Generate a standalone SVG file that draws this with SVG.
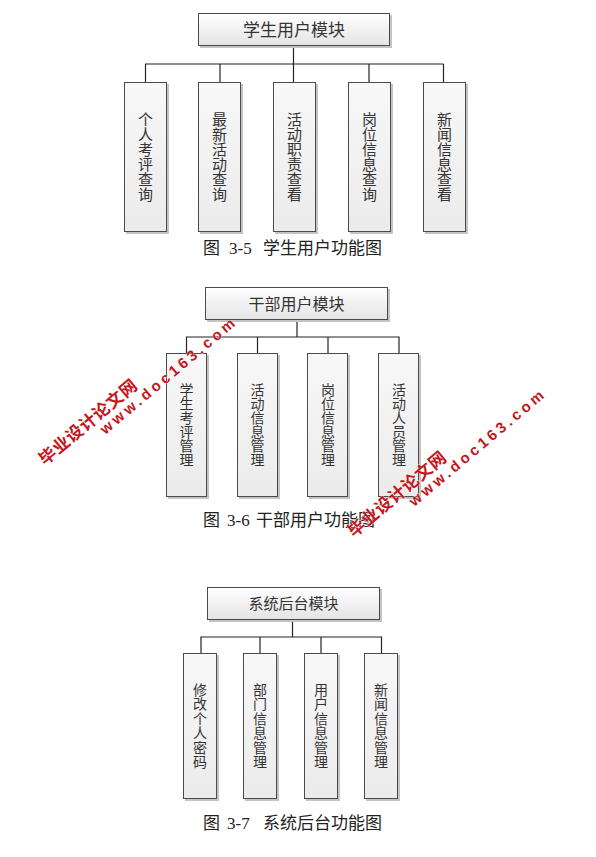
<svg xmlns="http://www.w3.org/2000/svg" width="596" height="857" viewBox="0 0 596 857">
<defs>
<linearGradient id="gTop" x1="0" y1="0" x2="0" y2="1">
<stop offset="0" stop-color="#ffffff"/>
<stop offset="1" stop-color="#e4e4e4"/>
</linearGradient>
<linearGradient id="gChild" x1="0" y1="0" x2="0" y2="1">
<stop offset="0" stop-color="#f8f8f8"/>
<stop offset="1" stop-color="#ebebeb"/>
</linearGradient>
<style>
.box{fill:url(#gTop);stroke:#4a4a4a;stroke-width:1}
.cbox{fill:url(#gChild);stroke:#4a4a4a;stroke-width:1}
.sh{fill:#c4c4c4}
.conn line{stroke:#222;stroke-width:1.2}
.t{font-family:"Noto Sans CJK SC","Noto Sans CJK JP",sans-serif;fill:#333;text-anchor:middle}
.v{writing-mode:vertical-rl;text-orientation:upright}
.cap{font-family:"Noto Sans CJK SC",sans-serif;fill:#222;font-size:17px}
.num{font-family:"Liberation Serif",serif;font-size:17px}
.wm{font-family:"Liberation Sans","Noto Sans CJK SC",sans-serif;font-weight:bold;fill:#c4161c;stroke:#ffffff;stroke-width:0.6;paint-order:stroke}
</style>
</defs>

<!-- Diagram 1 -->
<g id="conn1" class="conn">
<line x1="293.5" y1="46" x2="293.5" y2="64"/>
<line x1="145" y1="64" x2="443.5" y2="64"/>
<line x1="145.5" y1="64" x2="145.5" y2="82"/>
<line x1="220" y1="64" x2="220" y2="82"/>
<line x1="293.5" y1="64" x2="293.5" y2="82"/>
<line x1="369" y1="64" x2="369" y2="82"/>
<line x1="443.5" y1="64" x2="443.5" y2="82"/>
</g>
<g id="n1_root">
<rect class="sh" x="200" y="15" width="192" height="33"/>
<rect class="box" x="198.5" y="13.5" width="191" height="32"/>
<text class="t" x="294" y="36" font-size="17">学生用户模块</text>
</g>
<g id="n1_a">
<rect class="sh" x="126" y="84" width="43" height="150"/>
<rect class="cbox" x="124.5" y="82.5" width="42" height="149"/>
<text class="t v" x="145.5" y="157" font-size="15">个人考评查询</text>
</g>
<g id="n1_b">
<rect class="sh" x="200" y="84" width="43" height="150"/>
<rect class="cbox" x="198.5" y="82.5" width="42" height="149"/>
<text class="t v" x="219.5" y="157" font-size="15">最新活动查询</text>
</g>
<g id="n1_c">
<rect class="sh" x="275" y="84" width="43" height="150"/>
<rect class="cbox" x="273.5" y="82.5" width="42" height="149"/>
<text class="t v" x="294.5" y="157" font-size="15">活动职责查看</text>
</g>
<g id="n1_d">
<rect class="sh" x="350" y="84" width="43" height="150"/>
<rect class="cbox" x="348.5" y="82.5" width="42" height="149"/>
<text class="t v" x="369.5" y="157" font-size="15">岗位信息查询</text>
</g>
<g id="n1_e">
<rect class="sh" x="425" y="84" width="43" height="150"/>
<rect class="cbox" x="423.5" y="82.5" width="42" height="149"/>
<text class="t v" x="444.5" y="157" font-size="15">新闻信息查看</text>
</g>
<text class="cap" y="254"><tspan x="203">图</tspan><tspan class="num" x="229">3-5</tspan><tspan x="263">学生用户功能图</tspan></text>

<!-- Diagram 2 -->
<g id="conn2" class="conn">
<line x1="297" y1="320" x2="297" y2="337"/>
<line x1="186" y1="337" x2="399.5" y2="337"/>
<line x1="186.5" y1="337" x2="186.5" y2="353"/>
<line x1="257.5" y1="337" x2="257.5" y2="353"/>
<line x1="328" y1="337" x2="328" y2="353"/>
<line x1="399" y1="337" x2="399" y2="353"/>
</g>
<g id="n2_root">
<rect class="sh" x="207" y="289" width="183" height="33"/>
<rect class="box" x="205.5" y="287.5" width="182" height="32"/>
<text class="t" x="296.5" y="309.5" font-size="16">干部用户模块</text>
</g>
<g id="n2_a">
<rect class="sh" x="168" y="355" width="41" height="144"/>
<rect class="cbox" x="166.5" y="353.5" width="40" height="143"/>
<text class="t v" x="186.5" y="425" font-size="14">学生考评管理</text>
</g>
<g id="n2_b">
<rect class="sh" x="239" y="355" width="41" height="144"/>
<rect class="cbox" x="237.5" y="353.5" width="40" height="143"/>
<text class="t v" x="257.5" y="425" font-size="14">活动信息管理</text>
</g>
<g id="n2_c">
<rect class="sh" x="309" y="355" width="41" height="144"/>
<rect class="cbox" x="307.5" y="353.5" width="40" height="143"/>
<text class="t v" x="328" y="425" font-size="14">岗位信息管理</text>
</g>
<g id="n2_d">
<rect class="sh" x="380" y="355" width="41" height="144"/>
<rect class="cbox" x="378.5" y="353.5" width="40" height="143"/>
<text class="t v" x="399" y="425" font-size="14">活动人员管理</text>
</g>
<text class="cap" y="526"><tspan x="203">图</tspan><tspan class="num" x="227">3-6</tspan><tspan x="256">干部用户功能图</tspan></text>

<!-- Diagram 3 -->
<g id="conn3" class="conn">
<line x1="292.5" y1="620" x2="292.5" y2="637"/>
<line x1="200.5" y1="637" x2="382" y2="637"/>
<line x1="201" y1="637" x2="201" y2="653"/>
<line x1="260" y1="637" x2="260" y2="653"/>
<line x1="321" y1="637" x2="321" y2="653"/>
<line x1="381.5" y1="637" x2="381.5" y2="653"/>
</g>
<g id="n3_root">
<rect class="sh" x="209" y="589" width="173" height="33"/>
<rect class="box" x="207.5" y="587.5" width="172" height="32"/>
<text class="t" x="293.5" y="609" font-size="15">系统后台模块</text>
</g>
<g id="n3_a">
<rect class="sh" x="185" y="655" width="34" height="146"/>
<rect class="cbox" x="183.5" y="653.5" width="33" height="145"/>
<text class="t v" x="200" y="726" font-size="14" letter-spacing="0.5">修改个人密码</text>
</g>
<g id="n3_b">
<rect class="sh" x="245" y="655" width="34" height="146"/>
<rect class="cbox" x="243.5" y="653.5" width="33" height="145"/>
<text class="t v" x="260" y="726" font-size="14" letter-spacing="0.5">部门信息管理</text>
</g>
<g id="n3_c">
<rect class="sh" x="306" y="655" width="34" height="146"/>
<rect class="cbox" x="304.5" y="653.5" width="33" height="145"/>
<text class="t v" x="321" y="726" font-size="14" letter-spacing="0.5">用户信息管理</text>
</g>
<g id="n3_d">
<rect class="sh" x="366" y="655" width="34" height="146"/>
<rect class="cbox" x="364.5" y="653.5" width="33" height="145"/>
<text class="t v" x="381" y="726" font-size="14" letter-spacing="0.5">新闻信息管理</text>
</g>
<text class="cap" y="829"><tspan x="203">图</tspan><tspan class="num" x="227">3-7</tspan><tspan x="263">系统后台功能图</tspan></text>

<!-- Watermarks -->
<g transform="translate(45,466) rotate(-40)">
<text class="wm" x="0" y="0" font-size="17" letter-spacing="0.5">毕业设计论文网</text>
<text class="wm" x="66" y="15" font-size="15" letter-spacing="3.5">www.doc163.com</text>
</g>
<g transform="translate(354,538) rotate(-40)">
<text class="wm" x="0" y="0" font-size="17" letter-spacing="0.5">毕业设计论文网</text>
<text class="wm" x="66" y="15" font-size="15" letter-spacing="3.5">www.doc163.com</text>
</g>
</svg>
